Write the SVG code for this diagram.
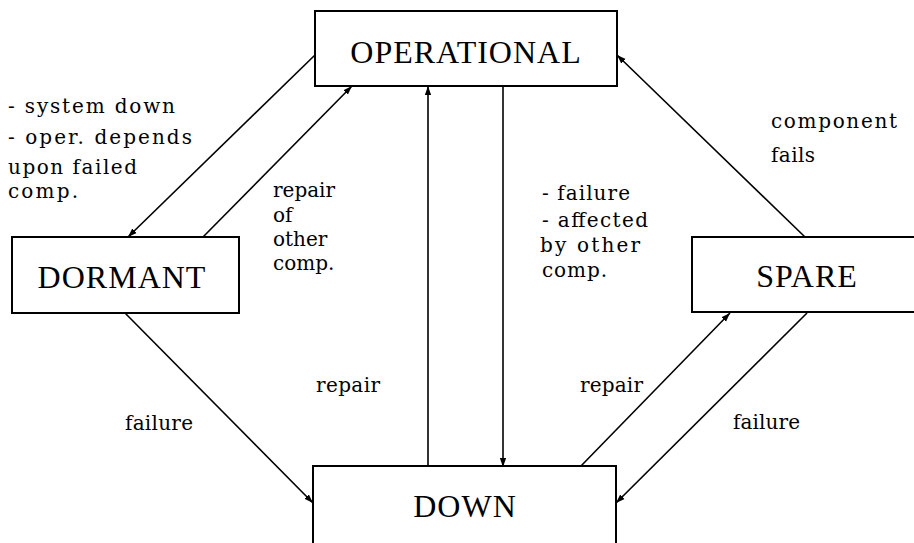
<svg xmlns="http://www.w3.org/2000/svg" width="914" height="543" viewBox="0 0 914 543">
<style>
.box{fill:#fff;stroke:#000;stroke-width:2}
.big{font-family:"Liberation Serif",serif;font-size:32px;fill:#000;text-anchor:middle;letter-spacing:1px}
.lbl{font-family:"DejaVu Serif","Liberation Serif",serif;font-size:20px;fill:#000}
.edge{stroke:#000;stroke-width:1.6;fill:none;marker-end:url(#ah)}
</style>
<defs>
<marker id="ah" viewBox="0 0 10 10" refX="10" refY="5" markerWidth="9" markerHeight="9" markerUnits="userSpaceOnUse" orient="auto">
<path d="M0,1.5 L10,5 L0,8.5 z" fill="#000"/>
</marker>
</defs>
<rect width="914" height="543" fill="#fff"/>
<g id="connectors">
<line class="edge" x1="315" y1="55" x2="128" y2="237"/>
<line class="edge" x1="203" y1="237" x2="352" y2="86"/>
<line class="edge" x1="428" y1="467" x2="428" y2="86"/>
<line class="edge" x1="503" y1="86" x2="503" y2="467"/>
<line class="edge" x1="805" y1="237" x2="617" y2="55"/>
<line class="edge" x1="580" y1="467" x2="730" y2="313"/>
<line class="edge" x1="807" y1="313" x2="616" y2="503"/>
<line class="edge" x1="125" y1="313" x2="313" y2="503"/>
</g>
<g id="operational">
<rect class="box" x="315" y="11" width="302" height="75"/>
<text class="big" x="466" y="63">OPERATIONAL</text>
</g>
<g id="dormant">
<rect class="box" x="12" y="237" width="227" height="76"/>
<text class="big" x="122" y="288">DORMANT</text>
</g>
<g id="spare">
<rect class="box" x="692" y="237" width="230" height="75"/>
<text class="big" x="807" y="287">SPARE</text>
</g>
<g id="down">
<rect class="box" x="313" y="466" width="303" height="90"/>
<text class="big" x="465" y="517">DOWN</text>
</g>
<g id="labels">
<text class="lbl" x="8" y="113" textLength="167" lengthAdjust="spacing">- system down</text>
<text class="lbl" x="8" y="144" textLength="184" lengthAdjust="spacing">- oper. depends</text>
<text class="lbl" x="8" y="174" textLength="129" lengthAdjust="spacing">upon failed</text>
<text class="lbl" x="8" y="198" textLength="70" lengthAdjust="spacing">comp.</text>
<text class="lbl" x="273" y="197">repair</text>
<text class="lbl" x="273" y="222">of</text>
<text class="lbl" x="273" y="246">other</text>
<text class="lbl" x="273" y="270">comp.</text>
<text class="lbl" x="542" y="200" textLength="88" lengthAdjust="spacing">- failure</text>
<text class="lbl" x="542" y="227" textLength="106" lengthAdjust="spacing">- affected</text>
<text class="lbl" x="540" y="252" textLength="100" lengthAdjust="spacing">by other</text>
<text class="lbl" x="542" y="277" textLength="65" lengthAdjust="spacing">comp.</text>
<text class="lbl" x="771" y="128" textLength="126" lengthAdjust="spacing">component</text>
<text class="lbl" x="771" y="162" textLength="44" lengthAdjust="spacing">fails</text>
<text class="lbl" x="125" y="430" textLength="68" lengthAdjust="spacing">failure</text>
<text class="lbl" x="316" y="392" textLength="64" lengthAdjust="spacing">repair</text>
<text class="lbl" x="580" y="392" textLength="63" lengthAdjust="spacing">repair</text>
<text class="lbl" x="733" y="429" textLength="67" lengthAdjust="spacing">failure</text>
</g>
</svg>
